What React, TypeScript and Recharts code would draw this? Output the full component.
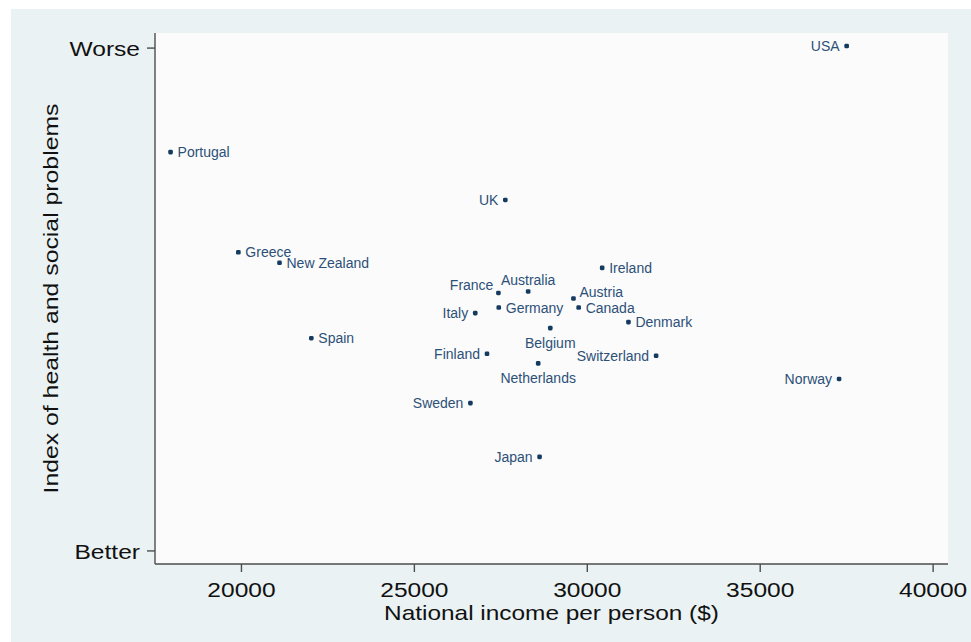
import React from "react";
import {
  ScatterChart,
  Scatter,
  XAxis,
  YAxis,
  CartesianGrid,
  Label,
} from "recharts";

// values
const countries = [
  "USA", "Portugal", "UK", "Greece", "New Zealand", "Ireland", "France",
  "Australia", "Austria", "Germany", "Canada", "Italy", "Denmark", "Belgium",
  "Spain", "Finland", "Switzerland", "Netherlands", "Norway", "Sweden", "Japan",
];
const income = [
  37500, 17950, 27630, 19910, 21100, 30430, 27430,
  28290, 29600, 27440, 29750, 26760, 31190, 28930,
  22020, 27100, 31990, 28580, 37280, 26620, 28620,
];
const healthIndex = [
  100.4, 79.3, 69.8, 59.4, 57.3, 56.3, 51.3,
  51.6, 50.2, 48.4, 48.4, 47.3, 45.5, 44.3,
  42.3, 39.2, 38.8, 37.3, 34.2, 29.4, 18.7,
];
// clock position of each marker label (like Stata's mlabvposition)
const labelClock = [
  9, 3, 9, 3, 3, 3, 10,
  12, 2, 3, 3, 9, 3, 6,
  3, 9, 9, 6, 9, 9, 9,
];

const xTicks = [20000, 25000, 30000, 35000, 40000];
const yTicks = [0, 100];
const yTickNames: Record<number, string> = { 0: "Better", 100: "Worse" };

const data = countries.map((name, i) => ({
  name,
  income: income[i],
  index: healthIndex[i],
  clock: labelClock[i],
}));

const FONT = "'Liberation Sans', Arial, Helvetica, sans-serif";
const AXIS = "#4d4d4d";
const DOT = "#143a60";
const LABEL = "#2c5078";

function labelOffset(clock: number) {
  switch (clock) {
    case 9:
      return { dx: -7, dy: 0, anchor: "end" };
    case 12:
      return { dx: 0, dy: -11, anchor: "middle" };
    case 6:
      return { dx: 0, dy: 15, anchor: "middle" };
    case 10:
      return { dx: -5, dy: -8, anchor: "end" };
    case 2:
      return { dx: 6, dy: -7, anchor: "start" };
    default:
      return { dx: 7, dy: 0, anchor: "start" };
  }
}

const CountryDot = (props: any) => {
  const { cx, cy, payload } = props;
  if (cx == null || cy == null) return null;
  const o = labelOffset(payload.clock);
  return (
    <g>
      <rect x={cx - 2.3} y={cy - 2.3} width={4.6} height={4.6} rx={1.4} fill={DOT} />
      <text
        x={cx + o.dx}
        y={cy + o.dy}
        textAnchor={o.anchor as any}
        dominantBaseline="central"
        fontFamily={FONT}
        fontSize={14}
        fill={LABEL}
      >
        {payload.name}
      </text>
    </g>
  );
};

const XTick = ({ x, y, payload }: any) => (
  <g transform={`translate(${x},${y})`}>
    <text
      transform="scale(1.17,1)"
      textAnchor="middle"
      dominantBaseline="central"
      dy={16}
      fontFamily={FONT}
      fontSize={21}
      fill="#111"
    >
      {payload.value}
    </text>
  </g>
);

const YTick = ({ x, y, payload }: any) => (
  <g transform={`translate(${x},${y})`}>
    <text
      transform="scale(1.17,1)"
      textAnchor="end"
      dominantBaseline="central"
      dy={1}
      fontFamily={FONT}
      fontSize={21}
      fill="#111"
    >
      {yTickNames[payload.value] ?? payload.value}
    </text>
  </g>
);

export default function App() {
  return (
    <div
      style={{
        position: "absolute",
        left: 11,
        top: 9,
        width: 960,
        height: 633,
        background: "#eaf2f3",
      }}
    >
      <ScatterChart
        width={960}
        height={633}
        margin={{ top: 24, right: 23, bottom: 0, left: 0 }}
      >
        <CartesianGrid
          horizontal={false}
          vertical={false}
          fill="#fbfbfb"
          stroke="none"
        />
        <XAxis
          type="number"
          dataKey="income"
          domain={[17500, 40430]}
          allowDataOverflow
          ticks={xTicks}
          interval={0}
          height={78}
          tickSize={8}
          tickMargin={2}
          stroke={AXIS}
          strokeWidth={1.4}
          tick={<XTick />}
        >
          <Label
            content={(p: any) => {
              const vb = p.viewBox || { x: 144, y: 555, width: 793 };
              return (
                <text
                  transform={`translate(${vb.x + vb.width / 2},${vb.y + 49}) scale(1.22,1)`}
                  textAnchor="middle"
                  dominantBaseline="central"
                  fontFamily={FONT}
                  fontSize={20}
                  fill="#111"
                >
                  National income per person ($)
                </text>
              );
            }}
          />
        </XAxis>
        <YAxis
          type="number"
          dataKey="index"
          domain={[-2.6, 103]}
          allowDataOverflow
          ticks={yTicks}
          interval={0}
          width={144}
          tickSize={8}
          tickMargin={7}
          stroke={AXIS}
          strokeWidth={1.4}
          tick={<YTick />}
        >
          <Label
            content={(p: any) => {
              const vb = p.viewBox || { x: 0, y: 24, height: 531 };
              return (
                <text
                  transform={`translate(${vb.x + 40},${vb.y + vb.height / 2}) rotate(-90) scale(1.24,1)`}
                  textAnchor="middle"
                  dominantBaseline="central"
                  fontFamily={FONT}
                  fontSize={20}
                  fill="#111"
                >
                  Index of health and social problems
                </text>
              );
            }}
          />
        </YAxis>
        <Scatter
          data={data}
          shape={<CountryDot />}
          isAnimationActive={false}
        />
      </ScatterChart>
    </div>
  );
}
